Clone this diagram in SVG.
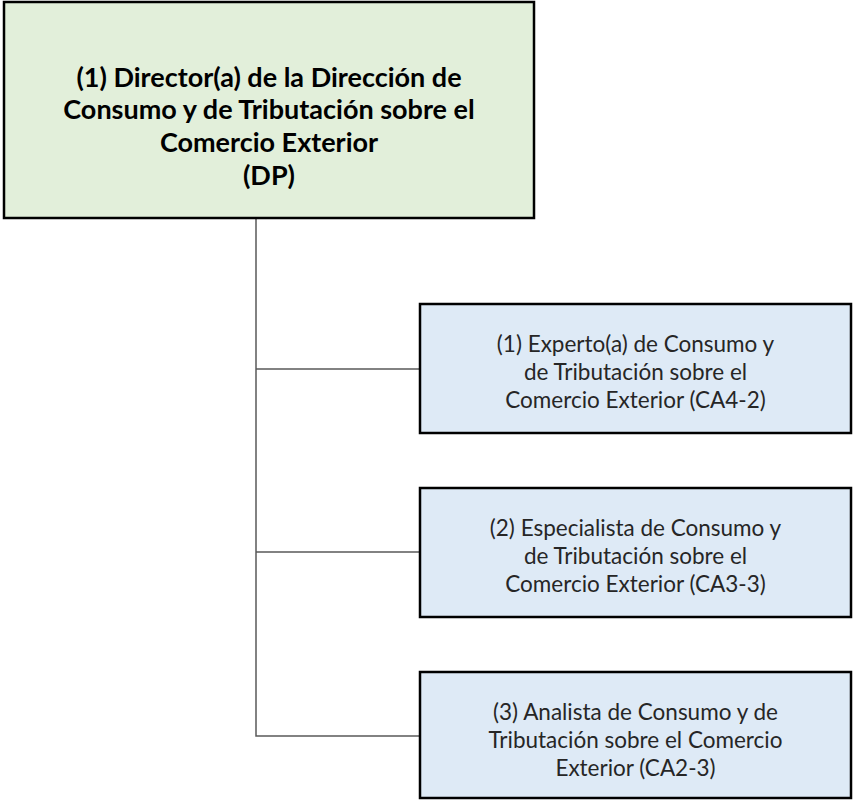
<svg xmlns="http://www.w3.org/2000/svg" width="854" height="800" viewBox="0 0 854 800">
<style>
.top{fill:#E2EFDA;stroke:#000;stroke-width:2.5}
.box{fill:#DEEAF6;stroke:#000;stroke-width:2.5}
.conn{stroke:#595959;stroke-width:1.5;fill:none}
.tb{font-family:Lato,"Liberation Sans",sans-serif;font-weight:bold;font-size:27px;fill:#000;text-anchor:middle}
.t{font-family:Lato,"Liberation Sans",sans-serif;font-size:22.5px;fill:#262626;text-anchor:middle}
</style>
<rect width="854" height="800" fill="#fff"/>
<g id="connectors">
<path class="conn" d="M256 219 V736 H420 M256 369 H420 M256 552 H420"/>
</g>
<g id="director">
<rect class="top" x="4" y="2" width="530" height="216"/>
<text class="tb" x="269" y="87">(1) Director(a) de la Dirección de</text>
<text class="tb" x="269" y="119">Consumo y de Tributación sobre el</text>
<text class="tb" x="269" y="152">Comercio Exterior</text>
<text class="tb" x="269" y="185">(DP)</text>
</g>
<g id="experto">
<rect class="box" x="420" y="304" width="431" height="129"/>
<text class="t" x="635.5" y="352">(1) Experto(a) de Consumo y</text>
<text class="t" x="635.5" y="380">de Tributación sobre el</text>
<text class="t" x="635.5" y="408">Comercio Exterior (CA4-2)</text>
</g>
<g id="especialista">
<rect class="box" x="420" y="488" width="431" height="129"/>
<text class="t" x="635.5" y="536">(2) Especialista de Consumo y</text>
<text class="t" x="635.5" y="564">de Tributación sobre el</text>
<text class="t" x="635.5" y="592">Comercio Exterior (CA3-3)</text>
</g>
<g id="analista">
<rect class="box" x="420" y="672" width="431" height="126"/>
<text class="t" x="635.5" y="720">(3) Analista de Consumo y de</text>
<text class="t" x="635.5" y="748">Tributación sobre el Comercio</text>
<text class="t" x="635.5" y="776">Exterior (CA2-3)</text>
</g>
</svg>
